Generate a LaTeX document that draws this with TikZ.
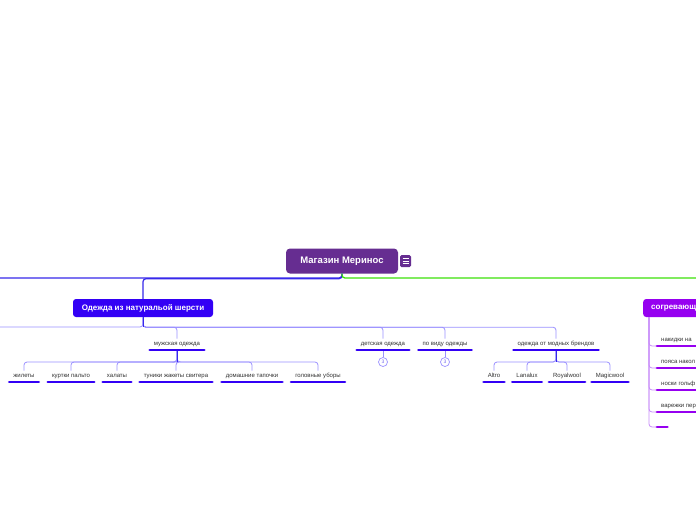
\documentclass[tikz,border=0pt]{standalone}
\usepackage{fontspec}
\setmainfont{Liberation Sans}
\usetikzlibrary{positioning}

\definecolor{rootpurple}{RGB}{102,45,145}
\definecolor{woolblue}{RGB}{51,0,245}
\definecolor{warmviolet}{RGB}{150,0,240}
\definecolor{busblue}{RGB}{55,40,235}
\definecolor{twigblue}{RGB}{155,145,255}
\definecolor{twigviolet}{RGB}{200,140,250}
\definecolor{meadow}{RGB}{60,225,10}
\definecolor{labelgray}{RGB}{50,50,50}

\begin{document}
\begin{tikzpicture}[x=1pt, y=-1pt,
    topic/.style={fill=#1, text=white, rounded corners=3pt,
                  font=\fontsize{8}{9.5}\selectfont\bfseries,
                  minimum height=18pt, inner xsep=8pt},
    sub/.style={font=\fontsize{6}{7}\selectfont, text=labelgray,
                text height=4.5pt, text depth=1.5pt,
                inner xsep=4pt, inner ysep=2.5pt, anchor=south},
    uline/.style={draw=#1, line width=2.8pt, line cap=round},
    uline/.default=woolblue,
    link/.style={draw=#1, line width=0.8pt, rounded corners=3pt},
    badge/.style={circle, draw=twigblue, text=busblue!70, inner sep=0pt,
                  line width=0.7pt, minimum size=9pt,
                  font=\fontsize{5}{5}\selectfont}
  ]
    \useasboundingbox[fill=white] (0,0) rectangle (696,520);
    % Root
    \node[fill=rootpurple, text=white, rounded corners=4pt,
          minimum width=112pt, minimum height=25pt,
          font=\fontsize{9.5}{11}\selectfont\bfseries] (root) at (342,261)
          {Магазин Меринос};
    \node[fill=rootpurple, rounded corners=1.5pt, inner sep=0pt,
          minimum width=11pt, minimum height=12pt] (menu) at (405.5,261) {};
    \foreach \dy in {-2.5,0,2.5}
      \draw[white, line width=0.7pt] ([xshift=-3pt, yshift=\dy pt]menu.center) -- ++(6,0);
    % Main topics
    \node[topic=woolblue, minimum width=140pt] (wool) at (143,308)
          {Одежда из натуральой шерсти};
    \node[topic=warmviolet, anchor=west, text width=70pt, align=left] (warm)
          at (643,308) {согревающ};
    % Free ends
    \coordinate (westA) at (-5,278);
    \coordinate (eastA) at (701,278);
    \coordinate (westB) at (-5,327);
    % Subtopics
    \node[sub] (men) at (177,350) {мужская одежда};
    \node[sub] (kids) at (383,350) {детская одежда};
    \node[sub] (view) at (445,350) {по виду одежды};
    \node[sub] (brands) at (556,350) {одежда от модных брендов};
    \node[badge] (kidsn) at (383,362) {3};
    \node[badge] (viewn) at (445,362) {3};
    % Men
    \node[sub] (m1) at (24,382) {жилеты};
    \node[sub] (m2) at (71,382) {куртки пальто};
    \node[sub] (m3) at (117,382) {халаты};
    \node[sub] (m4) at (176,382) {туники жакеты свитера};
    \node[sub] (m5) at (252,382) {домашние тапочки};
    \node[sub] (m6) at (318,382) {головные уборы};
    % Brands
    \node[sub] (b1) at (494,382) {Altro};
    \node[sub] (b2) at (527,382) {Lanalux};
    \node[sub] (b3) at (567,382) {Royalwool};
    \node[sub] (b4) at (610,382) {Magicwool};
    % Warm items
    \node[sub, anchor=south west] (w1) at (657,346) {накидки на};
    \node[sub, anchor=south west] (w2) at (657,368) {пояса накол};
    \node[sub, anchor=south west] (w3) at (657,390) {носки гольф};
    \node[sub, anchor=south west] (w4) at (657,412) {варежки пер};
    \node[sub, anchor=south west, minimum width=10pt] (w5) at (657,427) {};
    % Root connectors
    \draw[link=busblue, line width=1.2pt] (root.south) |- (westA);
    \draw[link=busblue, line width=1.2pt] (root.south) -- ++(0,5) -| (wool.north);
    \draw[link=meadow, line width=1.3pt] (root.south) |- (eastA);
    % Wool connectors
    \draw[link=twigblue] (wool.south) |- (westB);
    \foreach \n in {men,kids,view,brands}
      \draw[link=twigblue] (wool.south) -- ++(0,10) -| (\n.north);
    \draw[link=busblue] (wool.south) -- ++(0,10);
    \draw[link=twigblue] (kids.south) -- (kidsn.north);
    \draw[link=twigblue] (view.south) -- (viewn.north);
    \foreach \n in {m1,m2,m3,m4,m5,m6}
      \draw[link=twigblue] (men.south) -- ++(0,12) -| (\n.north);
    \draw[link=busblue] (men.south) -- ++(0,12);
    \foreach \n in {b1,b2,b3,b4}
      \draw[link=twigblue] (brands.south) -- ++(0,12) -| (\n.north);
    \draw[link=busblue] (brands.south) -- ++(0,12);
    % Warm connectors
    \foreach \n in {w1,w2,w3,w4,w5}
      \draw[link=twigviolet] ([xshift=6pt]warm.south west) |- (\n.south west);
    % Underlines
    \foreach \n in {men,kids,view,brands,m1,m2,m3,m4,m5,m6,b1,b2,b3,b4}
      \draw[uline] (\n.south west) -- (\n.south east);
    \foreach \n in {w1,w2,w3,w4}
      \draw[uline=warmviolet] (\n.south west) -- ++(60,0);
    \draw[uline=warmviolet] (w5.south west) -- (w5.south east);
  \end{tikzpicture}
\end{document}
